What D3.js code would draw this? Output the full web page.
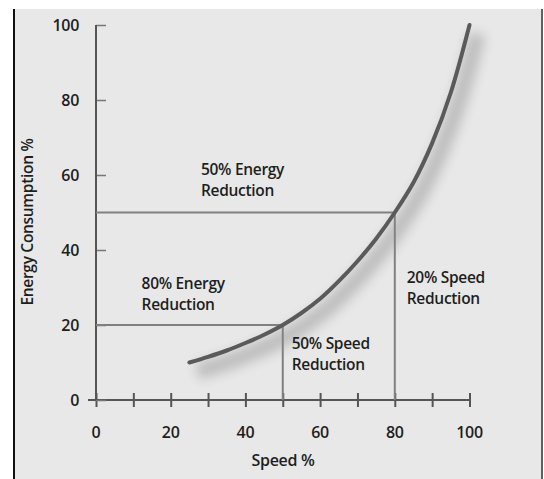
<!DOCTYPE html>
<html>
<head>
<meta charset="utf-8">
<script src="https://cdn.jsdelivr.net/npm/d3@7"></script>
<style>
  body { margin: 0; background: #fff; }
  text { font-family: "Open Sans", sans-serif; fill: #1e1e1e; font-weight: 600; }
</style>
</head>
<body>
<svg id="chart" width="544" height="479"></svg>
<script>
// speed % vs energy consumption %
const speed = [25, 30, 35, 40, 45, 50, 55, 60, 65, 70, 75, 80, 85, 90, 95, 100];
const energy = [10, 11.5, 13.2, 15.2, 17.4, 20, 23.2, 27, 31.7, 37, 43, 50, 58, 68.5, 82, 100];

const xTicks = [0, 10, 20, 30, 40, 50, 60, 70, 80, 90, 100];
const xLabels = [0, 20, 40, 60, 80, 100];
const yTicks = [0, 20, 40, 60, 80, 100];

// reference markers: [speed, energy]
const markers = [[50, 20], [80, 50]];
const notes = [
  { x: 28.1, y: 60, lines: ["50% Energy", "Reduction"] },
  { x: 12.2, y: 29.5, lines: ["80% Energy", "Reduction"] },
  { x: 52.4, y: 13.5, lines: ["50% Speed", "Reduction"] },
  { x: 83.2, y: 31.1, lines: ["20% Speed", "Reduction"] },
];

const svg = d3.select("#chart");

// background panel with border
svg.append("rect").attr("x", 14).attr("y", 9).attr("width", 529).attr("height", 470)
  .attr("fill", "#e8e8e8");
svg.append("line").attr("x1", 14).attr("x2", 14).attr("y1", 9).attr("y2", 479)
  .attr("stroke", "#111").attr("stroke-width", 2);
svg.append("line").attr("x1", 542).attr("x2", 542).attr("y1", 9).attr("y2", 479)
  .attr("stroke", "#333").attr("stroke-width", 1.5);

const x = d3.scaleLinear().domain([0, 100]).range([96, 469.5]);
const y = d3.scaleLinear().domain([0, 100]).range([400, 25]);

const defs = svg.append("defs");
defs.append("filter").attr("id", "blur").attr("x", "-20%").attr("y", "-20%")
  .attr("width", "140%").attr("height", "140%")
  .append("feGaussianBlur").attr("stdDeviation", 6);

// axes
const axisColor = "#555";
const xAxis = d3.axisBottom(x).tickValues(xTicks).tickSize(7).tickFormat("");
const gx = svg.append("g").attr("transform", `translate(0,${y(0)})`).call(xAxis);
gx.selectAll(".tick line").attr("y1", -7).attr("stroke", axisColor).attr("stroke-width", 2);
gx.select(".domain").remove();
gx.append("line").attr("x1", 88).attr("x2", x(100)).attr("stroke", axisColor).attr("stroke-width", 2);

const yAxis = d3.axisLeft(y).tickValues(yTicks).tickSize(8).tickFormat("");
const gy = svg.append("g").attr("transform", `translate(${x(0)},0)`).call(yAxis);
gy.selectAll(".tick line").attr("x2", 10).attr("stroke", "#777").attr("stroke-width", 1.5);
gy.select(".domain").remove();
gy.append("line").attr("y1", y(0)).attr("y2", y(100)).attr("stroke", axisColor).attr("stroke-width", 2);

svg.append("g").selectAll("text").data(xLabels).join("text")
  .attr("x", d => x(d)).attr("y", 438).attr("text-anchor", "middle")
  .attr("font-size", 16).attr("letter-spacing", -0.3)
  .text(d => d);

svg.append("g").selectAll("text").data(yTicks).join("text")
  .attr("x", 79).attr("y", d => y(d) + 6).attr("text-anchor", "end")
  .attr("font-size", 16).attr("letter-spacing", -0.3)
  .text(d => d);

svg.append("text").attr("x", 283).attr("y", 466).attr("text-anchor", "middle")
  .attr("font-size", 16).attr("letter-spacing", -0.3).text("Speed %");
svg.append("text").attr("transform", "translate(33,222) rotate(-90)")
  .attr("text-anchor", "middle").attr("font-size", 15.5).attr("letter-spacing", -0.3)
  .text("Energy Consumption %");

// marker lines
const refColor = "#808080";
markers.forEach(([sx, ey]) => {
  svg.append("line").attr("x1", x(0)).attr("x2", x(sx)).attr("y1", y(ey)).attr("y2", y(ey))
    .attr("stroke", refColor).attr("stroke-width", 2);
  svg.append("line").attr("x1", x(sx)).attr("x2", x(sx)).attr("y1", y(ey)).attr("y2", y(0))
    .attr("stroke", refColor).attr("stroke-width", 2);
});

// curve with soft shadow
const pts = speed.map((s, i) => [s, energy[i]]);
const line = d3.line().x(d => x(d[0])).y(d => y(d[1])).curve(d3.curveCatmullRom);

svg.append("path").attr("d", line(pts)).attr("fill", "none")
  .attr("stroke", "#888").attr("stroke-width", 16).attr("opacity", 0.45)
  .attr("transform", "translate(8,9)").attr("filter", "url(#blur)");
svg.append("path").attr("d", line(pts)).attr("fill", "none")
  .attr("stroke", "#5a5a5a").attr("stroke-width", 4).attr("stroke-linecap", "round");

// annotations
notes.forEach(n => {
  const t = svg.append("text").attr("x", x(n.x)).attr("y", y(n.y))
    .attr("font-size", 15.5).attr("letter-spacing", -0.3);
  n.lines.forEach((l, i) => {
    t.append("tspan").attr("x", x(n.x)).attr("dy", i === 0 ? 0 : 20.5).text(l);
  });
});
</script>
</body>
</html>
